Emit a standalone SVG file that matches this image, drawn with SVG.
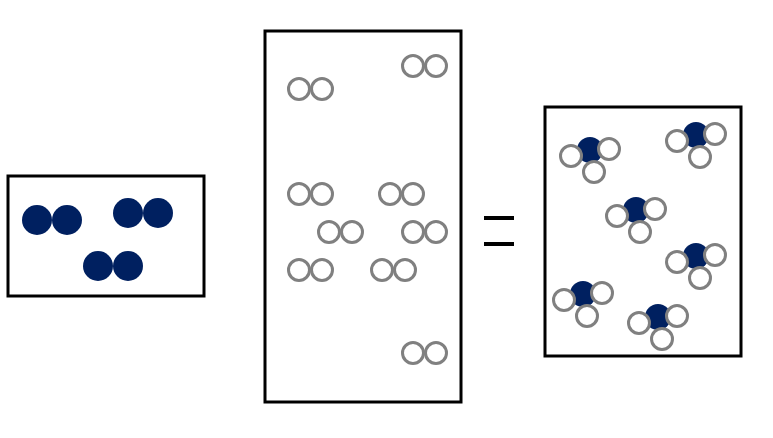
<svg xmlns="http://www.w3.org/2000/svg" width="773" height="438" viewBox="0 0 773 438">
<style>
.box{fill:#fff;stroke:#000;stroke-width:3}
.n{fill:#002060}
.h{fill:#fff;stroke:#808080;stroke-width:3}
</style>
<defs>
<g id="h2"><circle class="h" cx="0" cy="0" r="10.5"/><circle class="h" cx="23" cy="0" r="10.5"/></g>
<g id="n2"><circle class="n" cx="0" cy="0" r="15"/><circle class="n" cx="30" cy="0" r="15"/></g>
<g id="nh3"><circle class="n" cx="0" cy="0" r="13"/><circle class="h" cx="-19" cy="6" r="10.5"/><circle class="h" cx="19" cy="-1" r="10.5"/><circle class="h" cx="4" cy="22" r="10.5"/></g>
</defs>
<rect width="773" height="438" fill="#fff"/>
<g id="left"><rect class="box" x="8" y="176" width="196" height="120"/>
<use href="#n2" x="37" y="220"/><use href="#n2" x="128" y="213"/><use href="#n2" x="98" y="266"/></g>
<g id="middle"><rect class="box" x="265" y="31" width="196" height="371"/>
<use href="#h2" x="299" y="89"/><use href="#h2" x="413" y="66"/><use href="#h2" x="299" y="194"/><use href="#h2" x="390" y="194"/><use href="#h2" x="329" y="232"/><use href="#h2" x="413" y="232"/><use href="#h2" x="299" y="270"/><use href="#h2" x="382" y="270"/><use href="#h2" x="413" y="353"/></g>
<g id="equals"><path d="M484 218H514M484 244H514" stroke="#000" stroke-width="4"/></g>
<g id="right"><rect class="box" x="545" y="107" width="196" height="249"/>
<use href="#nh3" x="590" y="150"/><use href="#nh3" x="696" y="135"/><use href="#nh3" x="636" y="210"/><use href="#nh3" x="696" y="256"/><use href="#nh3" x="583" y="294"/><use href="#nh3" x="658" y="317"/></g>
</svg>
